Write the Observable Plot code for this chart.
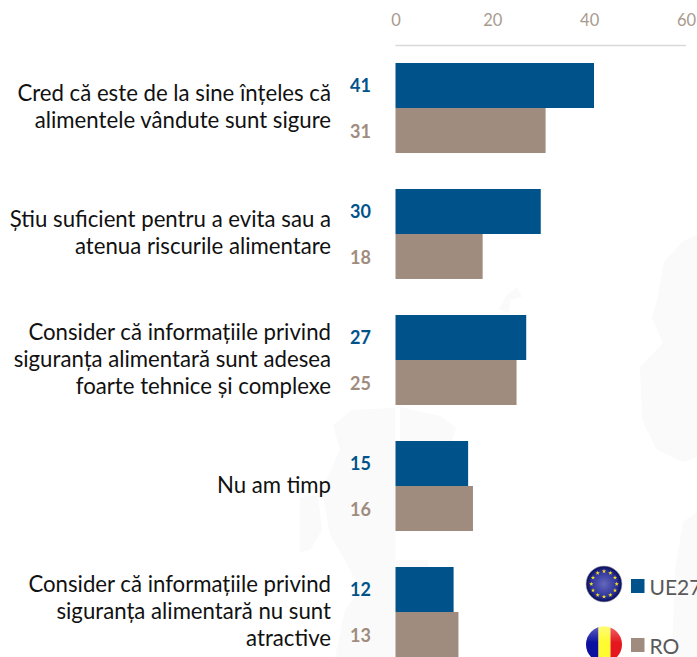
<!DOCTYPE html>
<html><head><meta charset="utf-8">
<script src="https://cdn.jsdelivr.net/npm/d3@7"></script>
<script src="https://cdn.jsdelivr.net/npm/@observablehq/plot@0.6"></script>
<style>
html,body{margin:0;padding:0;background:#fff;overflow:hidden}
#wrap{position:relative;width:697px;height:657px;overflow:hidden;font-family:Lato,sans-serif}
#wrap>svg{position:absolute;left:0;top:0}
</style></head><body><div id="wrap">
<svg id="bg" width="697" height="657"><g fill="#fafafa">
<path d="M683 241L664 262L657 300L652 318L663 343L640 367L642 420L657 450L683 462L697 457V235Z"/>
<path d="M509 313L499 309L506 296L517 287L522 297L510 300Z"/>
<path d="M400 407L440 416L456 428L450 447L400 446Z"/>
<path d="M352 410L395 408V450L396 657H335L345 610L360 590L345 560L330 535L322 490L340 450L333 425Z"/>
<path d="M300 497L318 495L322 530L310 550L300 552Z"/>
<path d="M697 512L683 522L675 570L672 657H697Z"/>
<path d="M396 560H428L436 600L425 657H396Z"/>
</g></svg></div>
<script>
const categories=[
"Cred că este de la sine înțeles că\nalimentele vândute sunt sigure",
"Știu suficient pentru a evita sau a\natenua riscurile alimentare",
"Consider că informațiile privind\nsiguranța alimentară sunt adesea\nfoarte tehnice și complexe",
"Nu am timp",
"Consider că informațiile privind\nsiguranța alimentară nu sunt\natractive"];
const ue27=[41,30,27,15,12];
const ro=[31,18,25,16,13];
const xTicks=[0,20,40,60];
const legendNames=["UE27","RO"];
const blue="#00538a",taupe="#9f8c7e",tickCol="#a99a8e";
const font="Lato, sans-serif";
const ueRows=categories.map((c,i)=>({c,v:ue27[i]}));
const roRows=categories.map((c,i)=>({c,v:ro[i]}));
const chart=Plot.plot({
  width:697,height:657,margin:0,
  style:{background:"transparent",fontFamily:font},
  x:{domain:[0,60],range:[395.5,686],axis:null},
  y:{domain:categories,range:[44.3,676.3],paddingInner:0.287,paddingOuter:0.1435,align:0.5,axis:null},
  marks:[
    Plot.barX(ueRows,{x:"v",y:"c",fill:blue,insetBottom:45}),
    Plot.barX(roRows,{x:"v",y:"c",fill:taupe,insetTop:45}),
    Plot.text(ueRows,{x:0,y:"c",text:"v",dx:-25,dy:-22,textAnchor:"end",fill:blue,fontWeight:700,fontSize:18}),
    Plot.text(roRows,{x:0,y:"c",text:"v",dx:-25,dy:24,textAnchor:"end",fill:taupe,fontWeight:700,fontSize:18}),
    Plot.text(categories,{x:0,y:d=>d,text:d=>d,dx:-65,dy:-2.5,textAnchor:"end",lineAnchor:"middle",lineHeight:1.216,fill:"#111",fontSize:22.2}),
    Plot.text(xTicks,{x:d=>d,frameAnchor:"top",dy:14,text:d=>String(d),fill:tickCol,fontSize:16.5}),
    Plot.ruleY([categories[0]],{x1:0,x2:60,dy:-63,stroke:"#d9d9d9",strokeWidth:1.5})
  ]
});
const wrap=document.getElementById("wrap");
wrap.appendChild(chart);

// legend overlay
const ov=d3.select(wrap).append("svg").attr("width",697).attr("height",657);
const defs=ov.append("defs");
const g1=defs.append("radialGradient").attr("id","eu");
g1.append("stop").attr("offset","0%").attr("stop-color","#6468bb");
g1.append("stop").attr("offset","70%").attr("stop-color","#2f349c");
g1.append("stop").attr("offset","100%").attr("stop-color","#050a55");
const gl=defs.append("linearGradient").attr("id","gloss").attr("x1",0).attr("x2",0).attr("y1",0).attr("y2",1);
gl.append("stop").attr("offset","0%").attr("stop-color","#fff").attr("stop-opacity",.35);
gl.append("stop").attr("offset","45%").attr("stop-color","#fff").attr("stop-opacity",0);
defs.append("clipPath").attr("id","roClip").append("circle").attr("cx",604).attr("cy",644.5).attr("r",18);
// EU flag
ov.append("circle").attr("cx",604).attr("cy",584).attr("r",18).attr("fill","url(#eu)").attr("stroke","#bbb").attr("stroke-width",.6);
const star=d3.symbol(d3.symbolStar,6);
d3.range(12).forEach(i=>{const a=i*Math.PI/6;
  ov.append("path").attr("d",star()).attr("fill","#f2e21c")
    .attr("transform",`translate(${604+12.7*Math.sin(a)},${584-12.7*Math.cos(a)})`);});
// RO flag
const ro_g=ov.append("g").attr("clip-path","url(#roClip)");
[["#0b109f",586,12.5],["#fffb2e",598.5,12],["#e5161d",610.5,12]].forEach(([c,x,w])=>
  ro_g.append("rect").attr("x",x).attr("y",626).attr("width",w).attr("height",37).attr("fill",c));
ro_g.append("rect").attr("x",586).attr("y",626).attr("width",36).attr("height",37).attr("fill","url(#gloss)");
// legend keys
legendNames.forEach((n,i)=>{
  const y=[579,638][i];
  ov.append("rect").attr("x",631).attr("y",y).attr("width",13.5).attr("height",14).attr("fill",[blue,taupe][i]);
  ov.append("text").attr("x",649.5).attr("y",y+16).attr("fill","#595959").attr("font-size",21).text(n);
});
</script></body></html>
